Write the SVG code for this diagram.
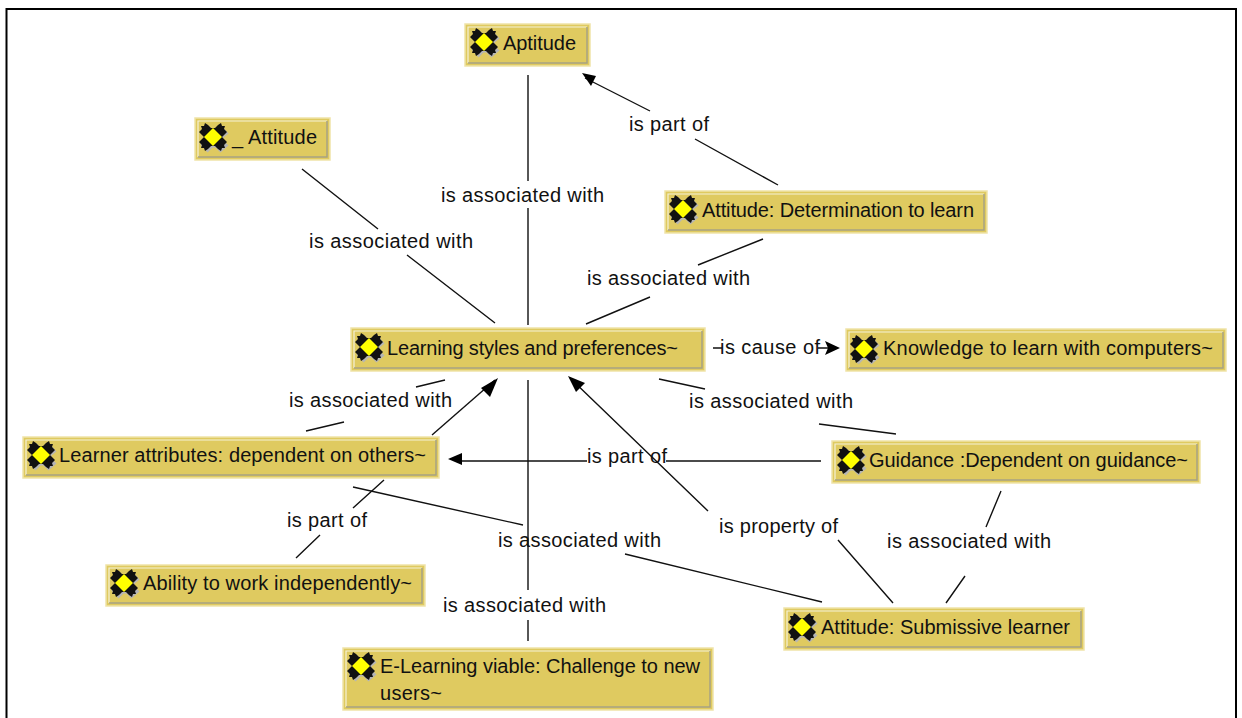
<svg xmlns="http://www.w3.org/2000/svg" xmlns:xlink="http://www.w3.org/1999/xlink" width="1242" height="718" viewBox="0 0 1242 718">
<style>
.box{fill:#dfca60;stroke:#efe3a8;stroke-width:1.5}
.hi{fill:none;stroke:#f6f1d6;stroke-width:1.2}
.lo{fill:none;stroke:#a8a282;stroke-width:1.5}
text{font-family:"Liberation Sans",Arial,sans-serif;font-size:20px;fill:#111}
.ln{stroke:#111;stroke-width:1.4;fill:none}
.ah{fill:#000}
</style>
<defs>
<g id="icon">
<path d="M-9 1-14 6-7 14-2 9 1 9 6 14 14 7 9 2 9-1 14-5 7-13 2-8-1-8-6-13-13-6-9-1Z" fill="#b5b5b5" transform="translate(1.500 1.500)"/>
<path d="M-9 0-14-5-11-8-12-11-9-11-8-14-5-12-2-9 2-9 5-12 8-14 9-11 12-11 11-8 14-5 9 0 14 5 11 8 12 11 9 11 8 14 5 12 2 9-2 9-5 12-8 14-9 11-12 11-11 8-14 5Z" fill="#111"/>
<path d="M0-9 9 0 0 9-9 0Z" fill="#ffff00"/>
</g>
</defs>
<rect width="1242" height="718" fill="#fff"/>
<path d="M6.500 718V9H1236V718" fill="none" stroke="#000" stroke-width="2"/>
<g id="connectors">
<path class="ln" d="M528 75V181M528 208V325"/>
<path class="ln" d="M302 169 378 229M407 255 495 323"/>
<path class="ln" d="M585 78 650 111M695 139 778 185"/>
<path class="ln" d="M763 239 698 265M650 297 586 324"/>
<path class="ln" d="M713 348H722M818 348H832"/>
<path class="ln" d="M659 379 705 389M819 424 896 434"/>
<path class="ln" d="M445 380 416 387M344 422 306 431"/>
<path class="ln" d="M432 435 495 380"/>
<path class="ln" d="M384 480 353 508M320 535 296 558"/>
<path class="ln" d="M353 487 523 525M625 554 822 602"/>
<path class="ln" d="M528 380V590M528 620V641"/>
<path class="ln" d="M821 461H666M587 461H458"/>
<path class="ln" d="M570 378 708 511M838 540 893 603"/>
<path class="ln" d="M1001 491 986 527M965 576 946 603"/>
<path class="ah" d="M582 73 596 76 591 86Z"/>
<path class="ah" d="M840 348 825 341 828 348 825 355Z"/>
<path class="ah" d="M498 378 481 388 490 397Z"/>
<path class="ah" d="M448 459 462 453V465Z"/>
<path class="ah" d="M568 376 585 383 576 392Z"/>
</g>
<g id="n-aptitude"><rect class="box" x="465" y="24" width="125" height="42"/><path class="hi" d="M468 63V27H587"/><path class="lo" d="M468 63H587V27"/><use xlink:href="#icon" href="#icon" x="484" y="42"/><text x="503" y="50" textLength="73">Aptitude</text></g>
<g id="n-attitude"><rect class="box" x="195" y="118" width="135" height="42"/><path class="hi" d="M198 157V121H327"/><path class="lo" d="M198 157H327V121"/><use xlink:href="#icon" href="#icon" x="213" y="137"/><text x="232" y="144" textLength="85">_ Attitude</text></g>
<g id="n-determination"><rect class="box" x="665" y="191" width="322" height="42"/><path class="hi" d="M668 230V194H984"/><path class="lo" d="M668 230H984V194"/><use xlink:href="#icon" href="#icon" x="683" y="209"/><text x="702" y="217" textLength="272">Attitude: Determination to learn</text></g>
<g id="n-learning"><rect class="box" x="351" y="328" width="354" height="43"/><path class="hi" d="M354 368V331H702"/><path class="lo" d="M354 368H702V331"/><use xlink:href="#icon" href="#icon" x="369" y="347"/><text x="387" y="355" textLength="291">Learning styles and preferences~</text></g>
<g id="n-knowledge"><rect class="box" x="846" y="329" width="380" height="42"/><path class="hi" d="M849 368V332H1223"/><path class="lo" d="M849 368H1223V332"/><use xlink:href="#icon" href="#icon" x="864" y="349"/><text x="883" y="355" textLength="330">Knowledge to learn with computers~</text></g>
<g id="n-guidance"><rect class="box" x="832" y="441" width="368" height="42"/><path class="hi" d="M835 480V444H1197"/><path class="lo" d="M835 480H1197V444"/><use xlink:href="#icon" href="#icon" x="851" y="460"/><text x="869" y="467" textLength="319">Guidance :Dependent on guidance~</text></g>
<g id="n-learner"><rect class="box" x="23" y="437" width="416" height="41"/><path class="hi" d="M26 475V440H436"/><path class="lo" d="M26 475H436V440"/><use xlink:href="#icon" href="#icon" x="41" y="455"/><text x="59" y="462" textLength="367">Learner attributes: dependent on others~</text></g>
<g id="n-ability"><rect class="box" x="106" y="565" width="319" height="41"/><path class="hi" d="M109 603V568H422"/><path class="lo" d="M109 603H422V568"/><use xlink:href="#icon" href="#icon" x="124" y="583"/><text x="143" y="590" textLength="269">Ability to work independently~</text></g>
<g id="n-submissive"><rect class="box" x="784" y="608" width="300" height="42"/><path class="hi" d="M787 647V611H1081"/><path class="lo" d="M787 647H1081V611"/><use xlink:href="#icon" href="#icon" x="802" y="627"/><text x="821" y="634" textLength="249">Attitude: Submissive learner</text></g>
<g id="n-elearning"><rect class="box" x="343" y="648" width="370" height="62"/><path class="hi" d="M346 707V651H710"/><path class="lo" d="M346 707H710V651"/><use xlink:href="#icon" href="#icon" x="361" y="666"/><text x="380" y="673" textLength="320">E-Learning viable: Challenge to new</text><text x="380" y="700" textLength="62">users~</text></g>
<g id="labels">
<text x="441" y="202" textLength="163">is associated with</text>
<text x="309" y="248" textLength="164">is associated with</text>
<text x="629" y="131" textLength="80">is part of</text>
<text x="587" y="285" textLength="163">is associated with</text>
<text x="720" y="354" textLength="100">is cause of</text>
<text x="689" y="408" textLength="164">is associated with</text>
<text x="289" y="407" textLength="163">is associated with</text>
<text x="287" y="527" textLength="80">is part of</text>
<text x="587" y="463" textLength="80">is part of</text>
<text x="498" y="547" textLength="163">is associated with</text>
<text x="719" y="533" textLength="119">is property of</text>
<text x="887" y="548" textLength="164">is associated with</text>
<text x="443" y="612" textLength="163">is associated with</text>
</g>
</svg>
